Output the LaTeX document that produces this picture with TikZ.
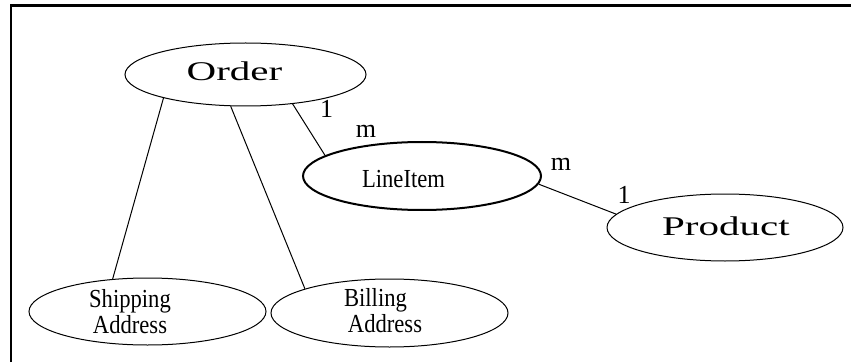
\documentclass[tikz,border=0pt]{standalone}
\usepackage{fontspec}
\setmainfont{Liberation Serif}
\newfontfamily\widefont[FakeStretch=1.52]{Liberation Serif}
\newfontfamily\slimfont[FakeStretch=0.87]{Liberation Serif}
\usetikzlibrary{shapes.geometric}

\begin{document}
\begin{tikzpicture}[x=1pt, y=1pt, line width=1pt,
		entity/.style={ellipse, draw, inner sep=0pt, minimum width=\ellipsewidth pt, minimum height=\ellipseheight pt},
		bigname/.style={font=\widefont\fontsize{27}{27}\selectfont, anchor=base, inner sep=0pt},
		smallname/.style={font=\slimfont\fontsize{26}{26}\selectfont, align=center, inner sep=0pt},
		cardinality/.style={font=\fontsize{26}{26}\selectfont, anchor=base, inner sep=0pt}]

		\pgfmathsetmacro{\ellipsewidth}{237}
		\pgfmathsetmacro{\ellipseheight}{67}
		\pgfmathsetmacro{\frametop}{356.3}
		\pgfmathsetmacro{\frameleft}{11}

		\useasboundingbox (0,0) rectangle (851,362);

		% draw frame (top and left edge only)
		\draw[line width=2.4pt] (\frameleft,0) -- (\frameleft,\frametop) -- (851,\frametop);

		% draw entities
		\node[entity, minimum width=241pt, minimum height=63pt] (order) at (245.5,287.5) {};
		\node[entity, line width=2pt, minimum width=238pt, minimum height=68pt] (lineitem) at (422,186) {};
		\node[entity, minimum width=236pt] (product) at (725,134.5) {};
		\node[entity] (shipping) at (147.5,50.5) {};
		\node[entity, minimum height=68pt] (billing) at (389.5,49) {};

		% entity names
		\node[bigname] (ordername) at (234.5,281) {Order};
		\node[bigname] (productname) at (726,127) {Product};
		\node[smallname, anchor=base] (lineitemname) at (403.5,175) {LineItem};
		\node[smallname] (shippingname) at (130,50.5) {Shipping\\Address};
		\node[smallname] (billingname) at (385,51.5) {Billing\hspace*{19pt}\\Address};

		% draw relationships
		\draw (order.196) -- (shipping.137);
		\draw (order.245) -- (billing.164);
		\draw (order.328) -- (lineitem.168);
		\draw (lineitem.356) -- (product.173);

		% cardinalities
		\node[cardinality] (orderone) at (326.5,244) {1};
		\node[cardinality] (ordermany) at (366,224) {m};
		\node[cardinality] (productmany) at (561,192) {m};
		\node[cardinality] (productone) at (624,159) {1};
	\end{tikzpicture}
\end{document}
